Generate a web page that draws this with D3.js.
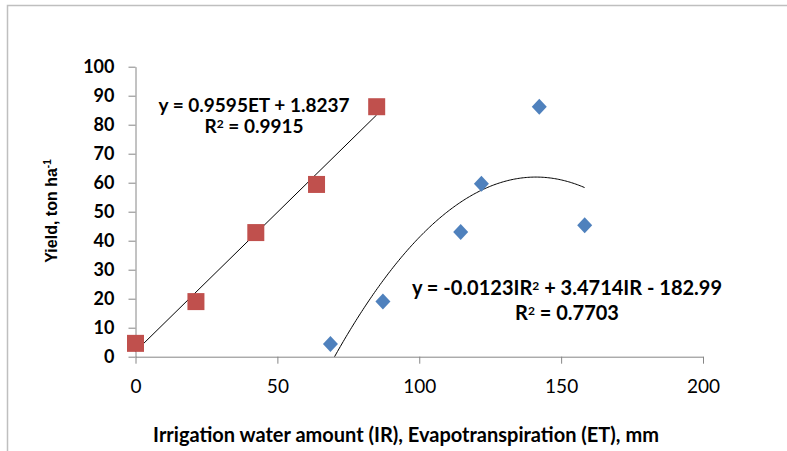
<!DOCTYPE html>
<html>
<head>
<meta charset="utf-8">
<script src="https://cdn.jsdelivr.net/npm/d3@7"></script>
<style>
  body { margin: 0; background: #fff; }
  #chart { width: 787px; height: 451px; }
  text { font-family: Lato, "Open Sans", sans-serif; fill: #000; }
</style>
</head>
<body>
<div id="chart"></div>
<script>
// data
const etValues = [0, 21.3, 42.4, 63.8, 85];
const etYield = [4.6, 19, 42.8, 59.4, 86.2];
const irValues = [68.7, 87.2, 114.6, 121.9, 142.3, 158.3];
const irYield = [4.4, 19, 43, 59.6, 86.2, 45.3];
const xTicks = [0, 50, 100, 150, 200];
const yTicks = [0, 10, 20, 30, 40, 50, 60, 70, 80, 90, 100];

// trendline coefficients as printed on the chart
const linCoef = { a: 0.9595, b: 1.8237 };
const quadCoef = { a: -0.0123, b: 3.4714, c: -182.99 };

const width = 787, height = 451;
const margin = { top: 66.7, right: 84, bottom: 94.3, left: 135.5 };

const svg = d3.select("#chart").append("svg")
  .attr("width", width)
  .attr("height", height);

// borda da área do gráfico
svg.append("path")
  .attr("d", `M7.5,${height} V5.5 H${width}`)
  .attr("fill", "none")
  .attr("stroke", "#bfbfbf")
  .attr("stroke-width", 1.5);

const x = d3.scaleLinear().domain([0, 200]).range([margin.left, width - margin.right]);
const y = d3.scaleLinear().domain([0, 100]).range([height - margin.bottom, margin.top]);

// X axis
const gx = svg.append("g")
  .attr("transform", `translate(0,${y(0)})`)
  .call(d3.axisBottom(x).tickValues(xTicks).tickSize(7).tickSizeOuter(0).tickPadding(16));
gx.select(".domain").attr("stroke", "#868686");
gx.selectAll(".tick line").attr("stroke", "#868686");
gx.selectAll(".tick text").style("font-size", "19px").style("font-family", "Lato");

// Y axis
const gy = svg.append("g")
  .attr("transform", `translate(${x(0)},0)`)
  .call(d3.axisLeft(y).tickValues(yTicks).tickSize(7).tickSizeOuter(0).tickPadding(14));
gy.select(".domain").attr("stroke", "#868686");
gy.selectAll(".tick line").attr("stroke", "#868686");
gy.selectAll(".tick text").style("font-size", "18px").style("font-weight", "bold").style("font-family", "Lato");

// trendlines
const clip = svg.append("clipPath").attr("id", "plot")
  .append("rect")
  .attr("x", x(0)).attr("y", y(100))
  .attr("width", x(200) - x(0)).attr("height", y(0) - y(100));

const linPts = d3.extent(etValues).map(v => [v, linCoef.a * v + linCoef.b]);
svg.append("path")
  .attr("d", d3.line().x(d => x(d[0])).y(d => y(d[1]))(linPts))
  .attr("fill", "none").attr("stroke", "#000").attr("stroke-width", 1);

const irExt = d3.extent(irValues);
const quadPts = d3.range(irExt[0], irExt[1] + 0.01, 0.5)
  .concat([irExt[1]])
  .map(v => [v, quadCoef.a * v * v + quadCoef.b * v + quadCoef.c]);
svg.append("path")
  .attr("clip-path", "url(#plot)")
  .attr("d", d3.line().x(d => x(d[0])).y(d => y(d[1]))(quadPts))
  .attr("fill", "none").attr("stroke", "#000").attr("stroke-width", 1);

// markers
svg.selectAll("path.ir")
  .data(irValues.map((v, i) => [v, irYield[i]]))
  .enter().append("path")
  .attr("class", "ir")
  .attr("transform", d => `translate(${x(d[0])},${y(d[1])})`)
  .attr("d", "M0,-8 L7.5,0 L0,8 L-7.5,0 Z")
  .attr("fill", "#4f81bd");

svg.selectAll("rect.et")
  .data(etValues.map((v, i) => [v, etYield[i]]))
  .enter().append("rect")
  .attr("class", "et")
  .attr("x", d => x(d[0]) - 8.5)
  .attr("y", d => y(d[1]) - 8.5)
  .attr("width", 17).attr("height", 17)
  .attr("fill", "#c0504d");

// equation labels
function eqLabel(cx, y1, size, gap, lines) {
  const t = svg.append("g");
  lines.forEach((ln, i) => {
    const tx = t.append("text")
      .attr("x", cx).attr("y", y1 + i * gap)
      .attr("text-anchor", "middle")
      .style("font-size", size + "px").style("font-weight", "bold");
    ln.forEach(seg => {
      const ts = tx.append("tspan").text(seg.t);
      if (seg.sup) ts.attr("dy", -5).style("font-size", "12px");
      if (seg.down) ts.attr("dy", 5);
    });
  });
}
eqLabel(254, 111.5, 19, 21, [
  [{ t: "y = 0.9595ET + 1.8237" }],
  [{ t: "R" }, { t: "2", sup: true }, { t: " = 0.9915", down: true }]
]);
eqLabel(567, 295, 20, 25, [
  [{ t: "y = -0.0123IR" }, { t: "2", sup: true }, { t: " + 3.4714IR - 182.99", down: true }],
  [{ t: "R" }, { t: "2", sup: true }, { t: " = 0.7703", down: true }]
]);

// axis titles
svg.append("text")
  .attr("x", 406).attr("y", 442)
  .attr("text-anchor", "middle")
  .style("font-size", "20px").style("font-weight", "bold")
  .text("Irrigation water amount (IR), Evapotranspiration (ET), mm");

const yt = svg.append("text")
  .attr("transform", "translate(57,211) rotate(-90)")
  .attr("text-anchor", "middle")
  .style("font-family", "'Liberation Sans', Arial, sans-serif")
  .style("font-size", "16px").style("font-weight", "bold");
yt.append("tspan").text("Yield, ton ha");
yt.append("tspan").attr("dy", -6).style("font-size", "10px").text("-1");
</script>
</body>
</html>
